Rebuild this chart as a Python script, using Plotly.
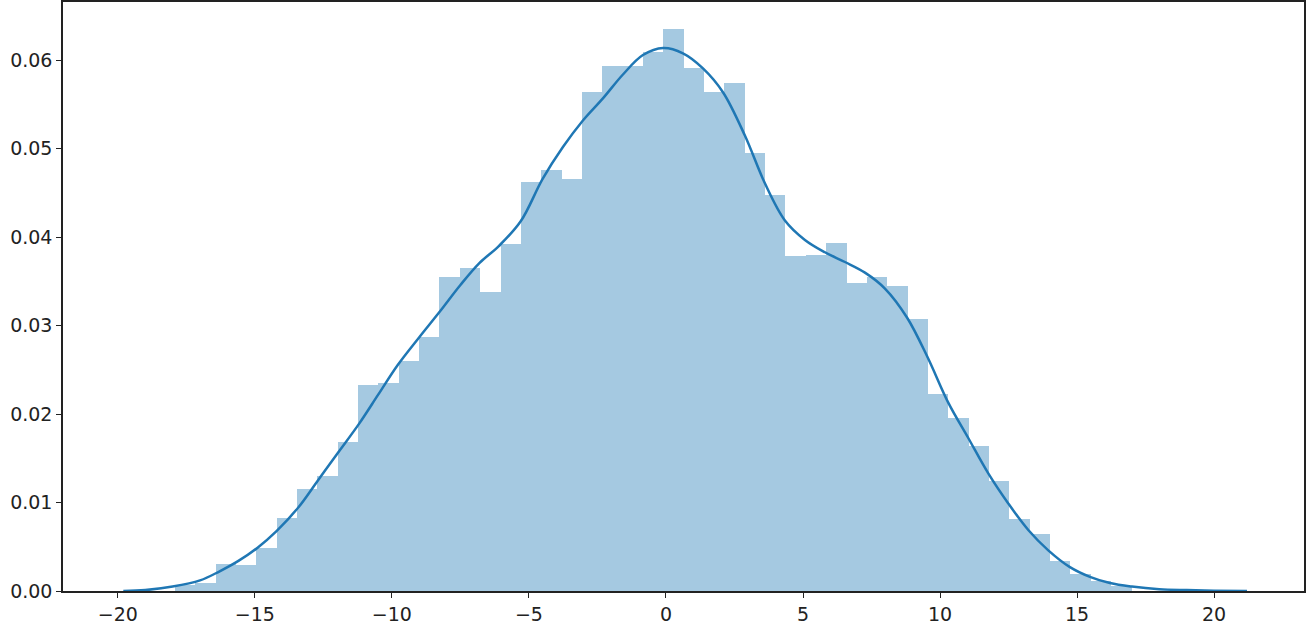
import numpy as np
import plotly.graph_objects as go

# Histogram (density)
bin_first_left = -17.92
bin_width = 0.7427
bin_heights = [
    0.0007, 0.0009, 0.0031, 0.0029, 0.0049, 0.0083, 0.0115, 0.0130, 0.0169, 0.0233,
    0.0235, 0.0260, 0.0287, 0.0355, 0.0365, 0.0338, 0.0392, 0.0463, 0.0476, 0.0466,
    0.0564, 0.0594, 0.0594, 0.0609, 0.0635, 0.0591, 0.0564, 0.0574, 0.0495, 0.0448,
    0.0379, 0.0380, 0.0394, 0.0348, 0.0355, 0.0345, 0.0308, 0.0223, 0.0196, 0.0164,
    0.0124, 0.0081, 0.0065, 0.0034, 0.0019, 0.0011, 0.0006,
]

# KDE curve points
kde_x = [-19.8, -19.0, -18.0, -17.0, -16.3, -15.6, -14.9, -14.2, -13.4, -12.7,
         -12.0, -11.2, -10.5, -9.8, -9.0, -8.25, -7.5, -6.8, -6.1, -5.3,
         -4.5, -3.76, -3.03, -2.3, -1.57, -0.84, -0.1, 0.62, 1.35, 2.08,
         2.88, 3.61, 4.34, 5.07, 5.8, 6.53, 7.26, 7.99, 8.8, 9.55,
         10.3, 11.03, 11.76, 12.49, 13.22, 13.95, 14.74, 15.47, 16.2, 17.0,
         18.0, 19.0, 20.0, 21.2]
kde_y = [0.0000, 0.0001, 0.0005, 0.0012, 0.0022, 0.0034, 0.0049, 0.0068, 0.0095, 0.0125,
         0.0155, 0.0189, 0.0222, 0.0255, 0.0287, 0.0316, 0.0346, 0.0371, 0.0390, 0.0418,
         0.0466, 0.0502, 0.0532, 0.0557, 0.0584, 0.0606, 0.0614, 0.0608, 0.0591, 0.0564,
         0.0515, 0.0461, 0.0419, 0.0397, 0.0383, 0.0372, 0.0360, 0.0342, 0.0309, 0.0264,
         0.0213, 0.0173, 0.0133, 0.0099, 0.0069, 0.0046, 0.0027, 0.0016, 0.0009, 0.0005,
         0.0002, 0.0001, 0.00004, 0.00001]

x_ticks = [-20, -15, -10, -5, 0, 5, 10, 15, 20]
x_tick_text = ["\u221220", "\u221215", "\u221210", "\u22125", "0", "5", "10", "15", "20"]
y_ticks = [0.00, 0.01, 0.02, 0.03, 0.04, 0.05, 0.06]
y_tick_text = ["0.00", "0.01", "0.02", "0.03", "0.04", "0.05", "0.06"]

centers = bin_first_left + bin_width * (np.arange(len(bin_heights)) + 0.5)

fig = go.Figure()
fig.add_trace(go.Bar(
    x=centers, y=bin_heights, width=bin_width,
    marker=dict(color="rgba(31,119,180,0.4)", line=dict(width=0)),
    hoverinfo="skip",
))
fig.add_trace(go.Scatter(
    x=kde_x, y=kde_y, mode="lines",
    line=dict(color="#1f77b4", width=2.5, shape="spline", smoothing=1.0),
))

axis_common = dict(
    showgrid=False, zeroline=False, showline=True, linecolor="#222222", linewidth=1.5,
    mirror=True, ticks="outside", ticklen=5, tickwidth=1.3, tickcolor="#222222",
    tickfont=dict(family="DejaVu Sans", size=19, color="#222222"),
    automargin=False,
)
fig.update_xaxes(range=[-22.0, 23.28], tickvals=x_ticks, ticktext=x_tick_text, **axis_common)
fig.update_yaxes(range=[0, 0.0666], tickvals=y_ticks, ticktext=y_tick_text, **axis_common)

fig.update_layout(
    width=1307, height=625,
    margin=dict(l=63, r=3, t=2, b=34),
    paper_bgcolor="white", plot_bgcolor="white",
    showlegend=False, bargap=0,
)

fig.write_html("out.html", config={"displayModeBar": False},
               post_script="document.body.style.margin='0';")
